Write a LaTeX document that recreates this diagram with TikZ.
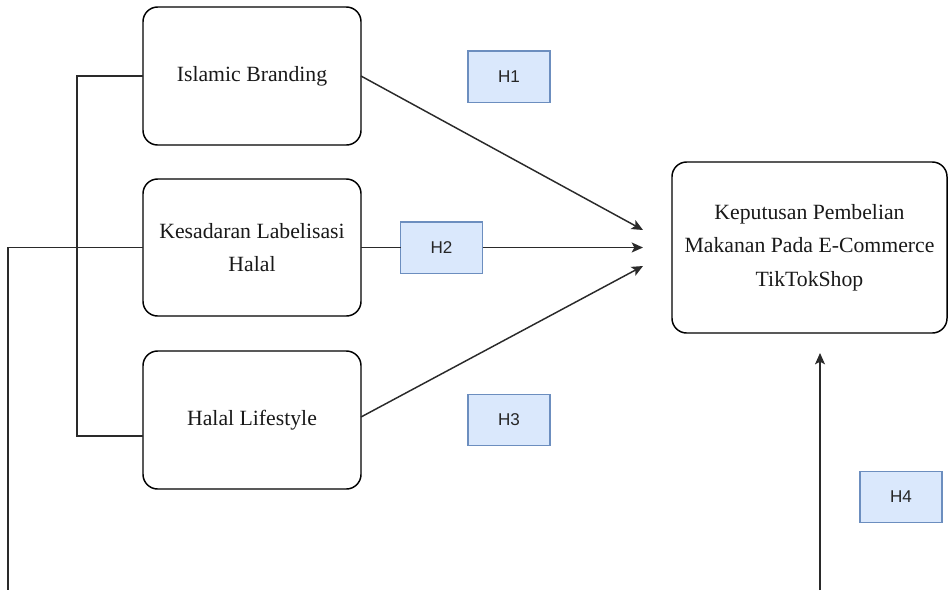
\documentclass[tikz,border=0pt]{standalone}
\usepackage{fontspec}
\setmainfont{Liberation Serif}
\newfontfamily\hfont{Liberation Sans}
\usetikzlibrary{arrows.meta}
\definecolor{hfill}{HTML}{DAE8FC}
\definecolor{hdraw}{HTML}{6C8EBF}
\definecolor{lineclr}{HTML}{2A2A2A}
\begin{document}
\begin{tikzpicture}[x=0.75pt,y=-0.75pt,
  varbox/.style={draw=black, line width=1.1pt, rounded corners=11pt, inner sep=0pt, outer sep=0pt,
    align=center, font=\fontsize{16.3}{25}\selectfont, text=black!90},
  hbox/.style={draw=hdraw, fill=hfill, line width=1pt, inner sep=0pt, outer sep=0pt,
    minimum width=61.5pt, minimum height=38.5pt, font=\hfont\fontsize{12.8}{15}\selectfont, text=black!85},
  conn/.style={draw=lineclr, line width=1.1pt},
  arr/.style={conn, -{Stealth[length=8.5pt,width=7.5pt,inset=2pt]}}
]
\useasboundingbox (0,0) rectangle (948,590);

\node[varbox, minimum width=163.5pt, minimum height=103.5pt] (ib) at (252,76) {Islamic Branding};
\node[varbox, minimum width=163.5pt, minimum height=102.75pt] (kl) at (252,247.5) {Kesadaran Labelisasi\\Halal};
\node[varbox, minimum width=163.5pt, minimum height=103.5pt] (hl) at (252,420) {Halal Lifestyle};
\node[varbox, minimum width=206.25pt, minimum height=128.25pt] (kp) at (809.5,247.5) {Keputusan Pembelian\\Makanan Pada E-Commerce\\TikTokShop};

\node[hbox] (h1) at (509,76.5) {H1};
\node[hbox] (h2) at (441.5,247.5) {H2};
\node[hbox] (h3) at (509,420) {H3};
\node[hbox] (h4) at (901,497) {H4};

\coordinate (bt) at (77,76);
\coordinate (bb) at (77,436);
\coordinate (ot) at (8,247.5);
\coordinate (ob) at (8,590);
\coordinate (t1) at (643,230);
\coordinate (t2) at (643,247.5);
\coordinate (t3) at (643,266);
\coordinate (h4b) at (820,590);
\coordinate (h4t) at (820,353);

\draw[conn] (ib.west) -- (bt) -- (bb) -- (bb -| hl.west);
\draw[conn] (kl.west) -- (ot) -- (ob);
\draw[arr] (ib.east) -- (t1);
\draw[conn] (kl.east) -- (h2.west);
\draw[arr] (h2.east) -- (t2);
\draw[arr] ([yshift=2.25pt]hl.east) -- (t3);
\draw[arr] (h4b) -- (h4t);
\end{tikzpicture}
\end{document}
